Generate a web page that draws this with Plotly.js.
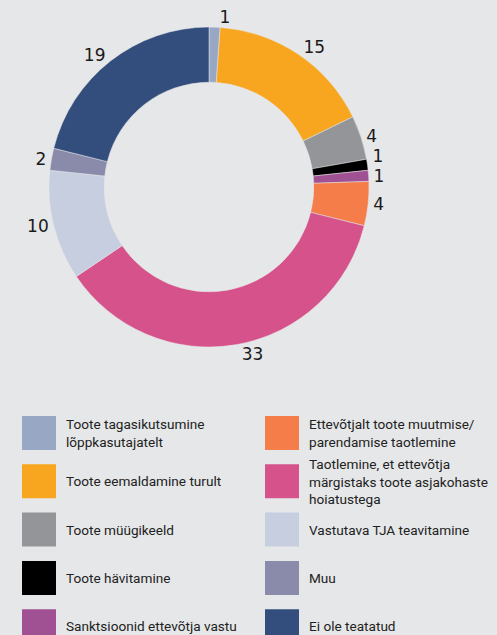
<!DOCTYPE html>
<html>
<head>
<meta charset="utf-8">
<script src="https://cdn.plot.ly/plotly-3.0.1.min.js"></script>
<style>
html,body{margin:0;padding:0;background:#e6e7e8;}
#chart{width:497px;height:635px;}
path.textline{stroke-opacity:0 !important;}
</style>
</head>
<body>
<div id="chart"></div>
<script>
// Data
var categories = [
  "Toote tagasikutsumine<br>lõppkasutajatelt",
  "Toote eemaldamine turult",
  "Toote müügikeeld",
  "Toote hävitamine",
  "Sanktsioonid ettevõtja vastu",
  "Ettevõtjalt toote muutmise/<br>parendamise taotlemine",
  "Taotlemine, et ettevõtja<br>märgistaks toote asjakohaste<br>hoiatustega",
  "Vastutava TJA teavitamine",
  "Muu",
  "Ei ole teatatud"
];
var values = [1, 15, 4, 1, 1, 4, 33, 10, 2, 19];
var colors = ["#98a8c4", "#f8a61f", "#939598", "#000000", "#a05193",
              "#f47d4a", "#d6528a", "#c6cedf", "#8a8bab", "#334e7c"];

var W = 497, H = 635;
function px(x){ return x / W; }
function py(y){ return (H - y) / H; }

// Pie geometry
var cx = 209, cy = 187, R = 160;

var trace = {
  type: "pie",
  values: values,
  labels: categories,
  marker: {colors: colors, line: {color: "#e6e7e8", width: 0.5}},
  hole: 0.655,
  sort: false,
  direction: "clockwise",
  rotation: 0,
  textinfo: "value",
  textposition: "outside",
  outsidetextfont: {family: "DejaVu Sans", size: 17, color: "#1a1a1a"},
  showlegend: false,
  automargin: false,
  domain: {x: [px(cx - R), px(cx + R)], y: [py(cy + R), py(cy - R)]}
};

// Custom two-column legend
var shapes = [], annotations = [];
var rowY = [433, 481.3, 529.6, 578, 626.3];
var sq = 34;
var colSqX = [22, 265], colTxtX = [64, 307];
for (var i = 0; i < categories.length; i++) {
  var col = Math.floor(i / 5), row = i % 5;
  var yc = rowY[row];
  shapes.push({
    type: "rect", xref: "paper", yref: "paper",
    x0: px(colSqX[col]), x1: px(colSqX[col] + sq),
    y0: py(yc + sq / 2), y1: py(yc - sq / 2),
    fillcolor: colors[i], line: {width: 0}
  });
  annotations.push({
    xref: "paper", yref: "paper",
    x: px(colTxtX[col]), y: py(yc),
    xanchor: "left", yanchor: "middle", align: "left",
    text: categories[i], showarrow: false,
    font: {family: "Roboto", size: 13.6, color: "#222222"}
  });
}

var layout = {
  width: W, height: H,
  margin: {l: 0, r: 0, t: 0, b: 0},
  paper_bgcolor: "#e6e7e8",
  plot_bgcolor: "#e6e7e8",
  shapes: shapes,
  annotations: annotations
};

Plotly.newPlot("chart", [trace], layout, {displayModeBar: false, staticPlot: true});
</script>
</body>
</html>
